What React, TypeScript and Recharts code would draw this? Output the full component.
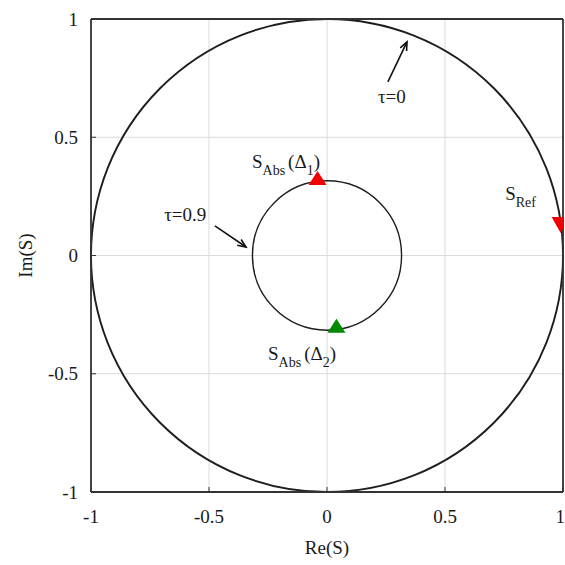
import {
  ScatterChart,
  Scatter,
  XAxis,
  YAxis,
  CartesianGrid,
  ReferenceArea,
  ReferenceLine,
  ReferenceDot,
} from "recharts";

const FONT = '"Liberation Serif", "Times New Roman", serif';

const axisTicks = [-1, -0.5, 0, 0.5, 1];

// constant-tau circles: centre (Re, Im) and radius
const circleCenterRe = [0, 0];
const circleCenterIm = [0, 0];
const circleRadius = [1, 0.316];

// markers
const absDelta1 = [{ re: -0.04, im: 0.315 }];
const absDelta2 = [{ re: 0.04, im: -0.31 }];
const sRef = [{ re: 0.99, im: 0.142 }];

// annotation arrows: tail -> head
const arrowFrom = [
  { re: 0.258, im: 0.734 },
  { re: -0.475, im: 0.125 },
];
const arrowTo = [
  { re: 0.339, im: 0.903 },
  { re: -0.343, im: 0.036 },
];

const tauLabels = ["τ=0", "τ=0.9"];
const tauLabelPos = [
  { re: 0.216, im: 0.645 },
  { re: -0.69, im: 0.146 },
];

const AXIS = "#333";
const INK = "#1a1a1a";

const TriangleUp = (color: string) => (props: any) => {
  const { cx, cy } = props;
  return (
    <polygon
      points={`${cx},${cy - 10} ${cx - 9},${cy + 4} ${cx + 9},${cy + 4}`}
      fill={color}
    />
  );
};

const TriangleDown = (color: string) => (props: any) => {
  const { cx, cy } = props;
  return (
    <polygon
      points={`${cx - 9},${cy - 5} ${cx + 9},${cy - 5} ${cx},${cy + 11}`}
      fill={color}
    />
  );
};

// ellipse inscribed in the reference area's rectangle
const circleShape = (width: number) => (props: any) => {
  const { x, y, width: w, height: h } = props;
  return (
    <ellipse
      cx={x + w / 2}
      cy={y + h / 2}
      rx={w / 2}
      ry={h / 2}
      fill="none"
      stroke="#1e1e1e"
      strokeWidth={width}
    />
  );
};

const arrowShape = (props: any) => {
  const { x1, y1, x2, y2 } = props;
  const ang = Math.atan2(y2 - y1, x2 - x1);
  const len = 9;
  const spread = 0.4;
  const ax = x2 - len * Math.cos(ang - spread);
  const ay = y2 - len * Math.sin(ang - spread);
  const bx = x2 - len * Math.cos(ang + spread);
  const by = y2 - len * Math.sin(ang + spread);
  return (
    <g>
      <line x1={x1} y1={y1} x2={x2} y2={y2} stroke="#111" strokeWidth={1.6} />
      <polyline
        points={`${ax},${ay} ${x2},${y2} ${bx},${by}`}
        fill="none"
        stroke="#111"
        strokeWidth={1.6}
      />
    </g>
  );
};

const plainText = (text: string) => (props: any) => (
  <text x={props.cx} y={props.cy} fontFamily={FONT} fontSize={19} fill={INK}>
    {text}
  </text>
);

const subLabel = (sub: string, delta: string | null) => (props: any) => (
  <text x={props.cx} y={props.cy} fontFamily={FONT} fontSize={19} fill={INK}>
    S
    <tspan fontSize={14} dy={7}>
      {sub}
    </tspan>
    {delta !== null && (
      <>
        <tspan fontSize={19} dy={-7} dx={3}>
          (Δ
        </tspan>
        <tspan fontSize={14} dy={7}>
          {delta}
        </tspan>
        <tspan fontSize={19} dy={-7}>
          )
        </tspan>
      </>
    )}
  </text>
);

export default function App() {
  return (
    <div
      style={{
        position: "fixed",
        left: 0,
        top: 0,
        width: 565,
        height: 565,
        background: "#fff",
      }}
    >
      <ScatterChart
        width={565}
        height={565}
        margin={{ top: 19, right: 2, bottom: 0, left: 0 }}
      >
        <CartesianGrid stroke="#dadada" strokeWidth={1} />
        <XAxis
          type="number"
          dataKey="re"
          domain={[-1, 1]}
          ticks={axisTicks}
          allowDataOverflow
          height={73}
          tickSize={-5}
          tickMargin={23}
          axisLine={{ stroke: AXIS, strokeWidth: 1.8 }}
          tickLine={{ stroke: AXIS }}
          tick={{ fill: INK, fontSize: 19, fontFamily: FONT }}
          label={{
            value: "Re(S)",
            position: "insideBottom",
            offset: 11,
            fill: INK,
            fontSize: 19,
            fontFamily: FONT,
          }}
        />
        <YAxis
          type="number"
          dataKey="im"
          domain={[-1, 1]}
          ticks={axisTicks}
          allowDataOverflow
          width={91}
          tickSize={-5}
          tickMargin={18}
          axisLine={{ stroke: AXIS, strokeWidth: 1.8 }}
          tickLine={{ stroke: AXIS }}
          tick={{ fill: INK, fontSize: 19, fontFamily: FONT }}
          label={{
            content: (p: any) => {
              const vb = p.viewBox;
              const x = vb.x + 25;
              const y = vb.y + vb.height / 2;
              return (
                <text
                  x={x}
                  y={y}
                  transform={`rotate(-90, ${x}, ${y})`}
                  textAnchor="middle"
                  dominantBaseline="central"
                  fontFamily={FONT}
                  fontSize={19}
                  fill={INK}
                >
                  Im(S)
                </text>
              );
            },
          }}
        />
        {/* box: top and right edges */}
        <ReferenceLine y={1} stroke={AXIS} strokeWidth={1.8} />
        <ReferenceLine x={1} stroke={AXIS} strokeWidth={1.8} />

        {circleRadius.map((r, i) => (
          <ReferenceArea
            key={`c${i}`}
            x1={circleCenterRe[i] - r}
            x2={circleCenterRe[i] + r}
            y1={circleCenterIm[i] - r}
            y2={circleCenterIm[i] + r}
            ifOverflow="visible"
            shape={circleShape(i === 0 ? 1.9 : 1.4)}
          />
        ))}

        {arrowFrom.map((a, i) => (
          <ReferenceLine
            key={`a${i}`}
            segment={[
              { x: a.re, y: a.im },
              { x: arrowTo[i].re, y: arrowTo[i].im },
            ]}
            shape={arrowShape}
          />
        ))}

        {tauLabels.map((t, i) => (
          <ReferenceDot
            key={`t${i}`}
            x={tauLabelPos[i].re}
            y={tauLabelPos[i].im}
            shape={plainText(t)}
          />
        ))}
        <ReferenceDot x={-0.318} y={0.37} shape={subLabel("Abs", "1")} />
        <ReferenceDot x={-0.25} y={-0.442} shape={subLabel("Abs", "2")} />
        <ReferenceDot x={0.755} y={0.235} shape={subLabel("Ref", null)} />

        <Scatter
          data={absDelta1}
          shape={TriangleUp("#f00000")}
          isAnimationActive={false}
        />
        <Scatter
          data={absDelta2}
          shape={TriangleUp("#008a00")}
          isAnimationActive={false}
        />
        <Scatter
          data={sRef}
          shape={TriangleDown("#f00000")}
          isAnimationActive={false}
        />
      </ScatterChart>
    </div>
  );
}
